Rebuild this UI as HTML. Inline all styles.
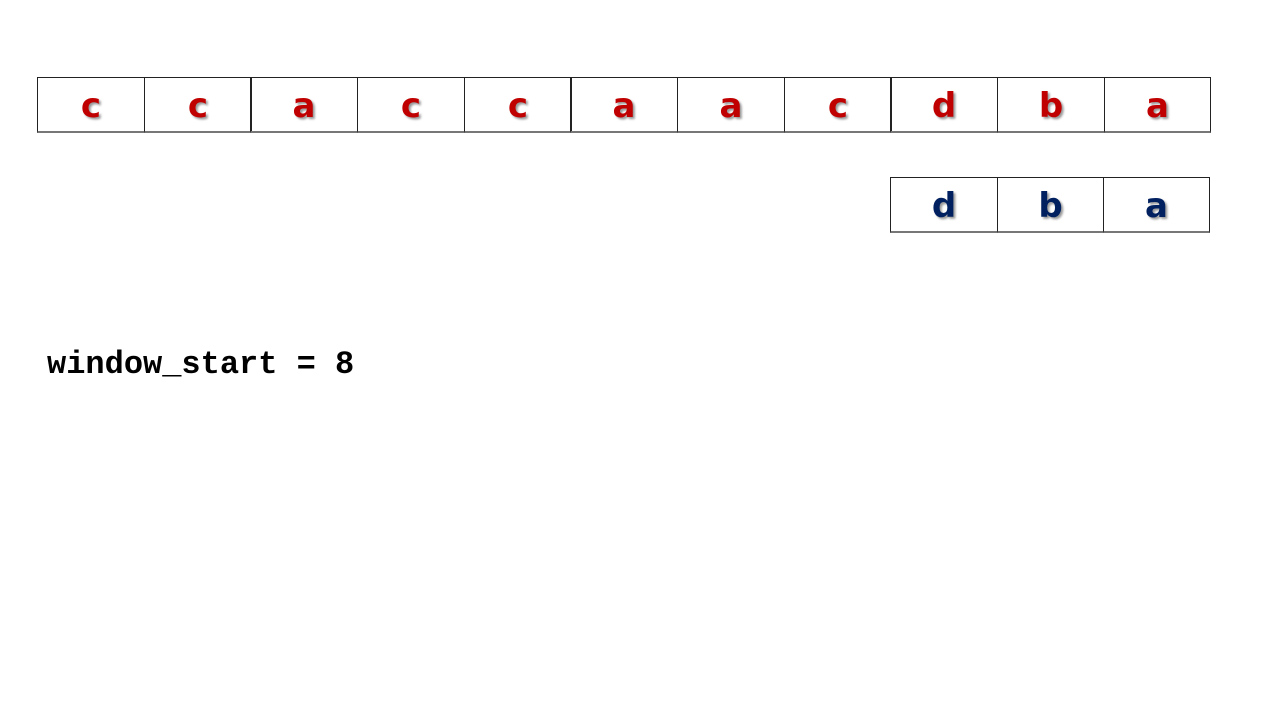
<!DOCTYPE html>
<html><head><style>
body{margin:0;width:1280px;height:720px;background:#fff;position:relative;overflow:hidden}
.c{position:absolute;box-sizing:border-box;border:1px solid #222;border-bottom:2px solid #777;display:flex;align-items:center;justify-content:center;font-family:"DejaVu Sans",sans-serif;font-weight:bold;font-size:34px;text-shadow:2px 2px 2px #999;padding-top:2px}
.r{color:#c00000}.b{color:#002060}
.t{position:absolute;left:47px;top:346px;font-family:"Liberation Mono",monospace;font-weight:bold;font-size:32px;color:#000;white-space:pre}
</style></head><body>
<div class="c r" style="left:37px;top:77px;width:108px;height:56px">c</div>
<div class="c r" style="left:144px;top:77px;width:108px;height:56px">c</div>
<div class="c r" style="left:250px;top:77px;width:108px;height:56px">a</div>
<div class="c r" style="left:357px;top:77px;width:108px;height:56px">c</div>
<div class="c r" style="left:464px;top:77px;width:108px;height:56px">c</div>
<div class="c r" style="left:570px;top:77px;width:108px;height:56px">a</div>
<div class="c r" style="left:677px;top:77px;width:108px;height:56px">a</div>
<div class="c r" style="left:784px;top:77px;width:108px;height:56px">c</div>
<div class="c r" style="left:890px;top:77px;width:108px;height:56px">d</div>
<div class="c r" style="left:997px;top:77px;width:108px;height:56px">b</div>
<div class="c r" style="left:1104px;top:77px;width:107px;height:56px">a</div>
<div class="c b" style="left:890px;top:177px;width:108px;height:56px">d</div>
<div class="c b" style="left:997px;top:177px;width:107px;height:56px">b</div>
<div class="c b" style="left:1103px;top:177px;width:107px;height:56px">a</div>
<div class="t">window_start = 8</div>
</body></html>
